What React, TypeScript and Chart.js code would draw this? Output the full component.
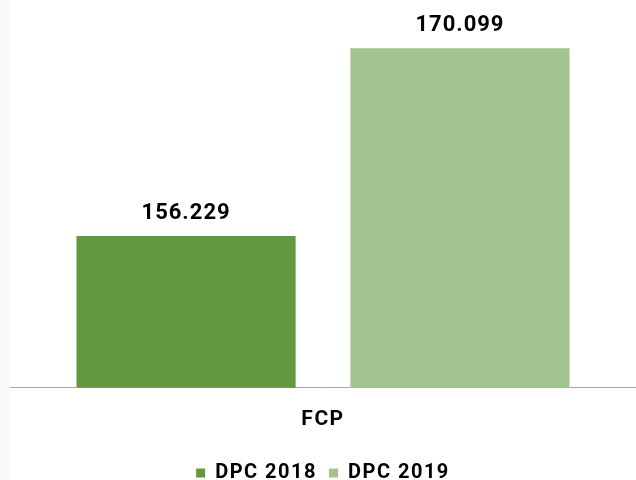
import React, { useEffect, useRef } from "react";
import { Chart, registerables } from "chart.js";

Chart.register(...registerables);

const categories = ["FCP"];
const seriesNames = ["DPC 2018", "DPC 2019"];
const values2018 = [156229];
const values2019 = [170099];
const colors = ["#62993E", "#A2C590"];
const yMin = 145000;
const yMax = 173000;

const FONT = "Roboto, 'DejaVu Sans', sans-serif";

const fmt = (v: number) => v.toLocaleString("pt-BR");

const spacingPlugin = {
  id: "spacing",
  beforeUpdate(chart: any) {
    chart.ctx.letterSpacing = "1.5px";
  },
  beforeDraw(chart: any) {
    chart.ctx.letterSpacing = "1.5px";
  },
};

const valueLabels = {
  id: "valueLabels",
  afterDatasetsDraw(chart: any) {
    const ctx = chart.ctx;
    ctx.save();
    ctx.letterSpacing = "1px";
    ctx.font = `bold 22px ${FONT}`;
    ctx.fillStyle = "#000000";
    ctx.textAlign = "center";
    ctx.textBaseline = "alphabetic";
    chart.data.datasets.forEach((ds: any, i: number) => {
      const meta = chart.getDatasetMeta(i);
      meta.data.forEach((bar: any, j: number) => {
        ctx.fillText(fmt(ds.data[j]), bar.x, bar.y - 17);
      });
    });
    ctx.restore();
  },
};

export default function App() {
  const ref = useRef<HTMLCanvasElement>(null);
  useEffect(() => {
    if (!ref.current) return;
    const chart = new Chart(ref.current, {
      type: "bar",
      data: {
        labels: categories,
        datasets: [
          { label: seriesNames[0], data: values2018, backgroundColor: colors[0] },
          { label: seriesNames[1], data: values2019, backgroundColor: colors[1] },
        ],
      },
      options: {
        animation: false,
        responsive: false,
        maintainAspectRatio: false,
        layout: { padding: { top: 9, left: 10, right: 0, bottom: -13 } },
        datasets: { bar: { categoryPercentage: 0.875, barPercentage: 0.8 } },
        plugins: {
          legend: {
            position: "bottom",
            labels: {
              font: { family: FONT, size: 20, weight: "bold" },
              color: "#000000",
              boxWidth: 9,
              boxHeight: 9,
              padding: 12,
            },
          },
          tooltip: { enabled: false },
        },
        scales: {
          x: {
            grid: { display: false, drawTicks: false },
            border: { display: true, color: "#A6A6A6", width: 1 },
            ticks: {
              font: { family: FONT, size: 21, weight: "bold" },
              color: "#000000",
              padding: 19,
            },
          },
          y: {
            display: false,
            min: yMin,
            max: yMax,
          },
        },
      },
      plugins: [spacingPlugin, valueLabels],
    });
    return () => chart.destroy();
  }, []);
  return (
    <div
      style={{
        position: "fixed",
        left: 0,
        top: 0,
        width: 636,
        height: 480,
        background: "linear-gradient(to right, #f8f8f8 10px, #ffffff 10px)",
      }}
    >
      <canvas ref={ref} width={636} height={480} style={{ display: "block" }} />
    </div>
  );
}
